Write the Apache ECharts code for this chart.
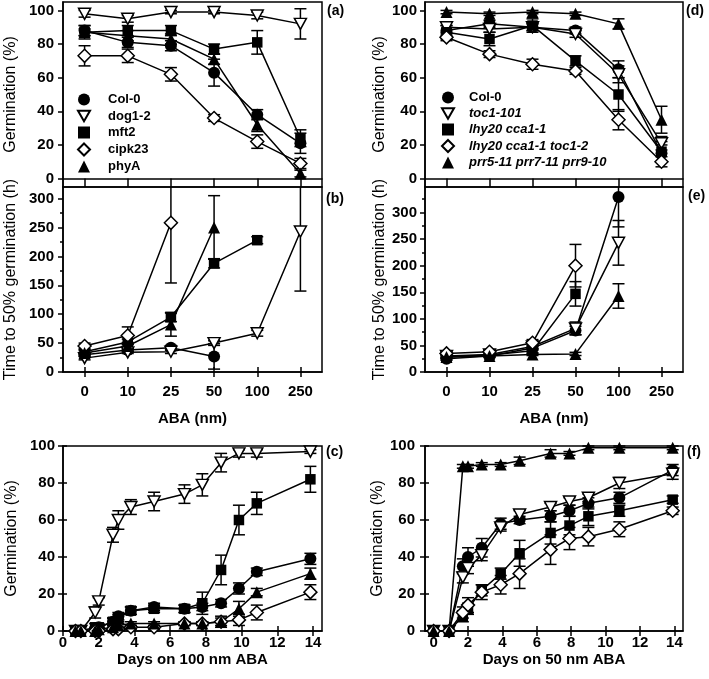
<!DOCTYPE html>
<html>
<head>
<meta charset="utf-8">
<script src="https://cdn.jsdelivr.net/npm/echarts@6/dist/echarts.min.js"></script>
<style>html,body{margin:0;padding:0;background:#fff;}#chart{width:709px;height:679px;}</style>
</head>
<body>
<div id="chart"></div>
<script>
// ---------------- DATA ----------------
const abaCats = ['0', '10', '25', '50', '100', '250'];

// Panel (a): germination (%) vs ABA
const aCol0 = [88, 81, 79, 63, 38, 21];
const aDog12 = [98, 95, 99, 99, 97, 92];
const aMft2 = [87, 88, 88, 77, 81, 24];
const aCipk23 = [73, 73, 62, 36, 22, 9];
const aPhyA = [87, 85, 83, 71, 32, 3];
const aCol0Err = [3, 3, 3, 8, 3, 6];
const aDog12Err = [2, 2, 1, 1, 2, 9];
const aMft2Err = [4, 3, 3, 3, 7, 5];
const aCipk23Err = [6, 4, 4, 2, 4, 3];
const aPhyAErr = [2, 3, 3, 3, 4, 2];

// Panel (b): time to 50% germination (h)
const bCol0 = [30, 38, 42, 27, null, null];
const bDog12 = [24, 34, 35, 50, 67, 243];
const bMft2 = [35, 52, 95, 188, 228, null];
const bCipk23 = [45, 63, 258, null, null, null];
const bPhyA = [33, 45, 82, 250, null, null];
const bCol0Err = [3, 3, 4, 22, 0, 0];
const bDog12Err = [3, 2, 3, 4, 5, 103];
const bMft2Err = [4, 5, 8, 8, 6, 0];
const bCipk23Err = [5, 15, 104, 0, 0, 0];
const bPhyAErr = [4, 6, 20, 55, 0, 0];

// Panel (c): days on 100 nm ABA
const cDays = [0.7, 1, 1.8, 2, 2.8, 3.1, 3.8, 5.1, 6.8, 7.8, 8.85, 9.85, 10.85, 13.85];
const cDog12 = [0, 0, 10, 16, 52, 60, 67, 70, 74, 79, 91, 96, 96, 97];
const cMft2 = [0, 0, 2, 2, 5, 7, 11, 12, 12, 15, 33, 60, 69, 82];
const cCol0 = [0, 0, 1, 2, 5, 8, 11, 13, 12, 13, 15, 23, 32, 39];
const cPhyA = [0, 0, 0, 1, 2, 3, 4, 4, 4, 4, 5, 12, 21, 31];
const cCipk23 = [0, 0, 0, 0, 1, 1, 2, 2, 4, 4, 5, 6, 10, 21];
const cDog12Err = [0, 0, 3, 2, 4, 5, 4, 5, 5, 6, 5, 2, 2, 1];
const cMft2Err = [0, 0, 2, 2, 2, 2, 2, 2, 2, 6, 8, 8, 6, 7];
const cCol0Err = [0, 0, 1, 1, 2, 2, 2, 2, 2, 2, 2, 3, 2, 3];
const cPhyAErr = [0, 0, 0, 1, 1, 1, 1, 1, 1, 1, 3, 4, 2, 3];
const cCipk23Err = [0, 0, 0, 0, 1, 1, 1, 1, 1, 1, 2, 3, 4, 4];

// Panel (d): germination (%) vs ABA, clock mutants
const dCol0 = [88, 92, 90, 88, 65, 15];
const dToc1 = [90, 89, 90, 86, 62, 21];
const dLhy = [87, 83, 91, 70, 50, 16];
const dLhyToc = [84, 74, 68, 64, 35, 10];
const dPrr = [99, 98, 99, 98, 92, 35];
const dCol0Err = [3, 2, 2, 2, 5, 5];
const dToc1Err = [3, 2, 2, 2, 5, 4];
const dLhyErr = [4, 4, 4, 3, 10, 6];
const dLhyTocErr = [2, 2, 3, 2, 6, 3];
const dPrrErr = [1, 1, 1, 1, 3, 8];

// Panel (e): time to 50% germination (h), clock mutants
const eCol0 = [25, 30, 45, 78, 329, null];
const eToc1 = [30, 33, 48, 82, 243, null];
const eLhy = [28, 32, 40, 147, null, null];
const eLhyToc = [35, 38, 55, 200, null, null];
const ePrr = [28, 30, 33, 34, 143, null];
const eCol0Err = [3, 3, 4, 8, 56, 0];
const eToc1Err = [3, 3, 5, 12, 42, 0];
const eLhyErr = [3, 3, 4, 23, 0, 0];
const eLhyTocErr = [3, 3, 6, 40, 0, 0];
const ePrrErr = [2, 2, 2, 3, 23, 0];

// Panel (f): days on 50 nm ABA
const fDays = [0, 0.9, 1.7, 2, 2.8, 3.9, 5, 6.8, 7.9, 9, 10.8, 13.9];
const fCol0 = [0, 0, 35, 40, 45, 58, 60, 62, 65, 69, 72, 87];
const fToc1 = [0, 0, 29, 34, 41, 56, 63, 67, 70, 72, 80, 85];
const fLhy = [0, 0, 8, 12, 22, 31, 42, 53, 57, 62, 65, 71];
const fLhyToc = [0, 0, 10, 14, 21, 25, 31, 44, 50, 51, 55, 65];
const fPrr = [0, 0, 89, 89, 90, 90, 92, 96, 96, 99, 99, 99];
const fCol0Err = [0, 0, 4, 5, 5, 3, 2, 3, 3, 3, 3, 3];
const fToc1Err = [0, 0, 3, 3, 3, 2, 2, 2, 2, 2, 3, 3];
const fLhyErr = [0, 0, 3, 3, 3, 3, 7, 6, 5, 5, 3, 2];
const fLhyTocErr = [0, 0, 3, 4, 4, 5, 8, 8, 6, 5, 4, 2];
const fPrrErr = [0, 0, 1, 1, 1, 1, 2, 2, 1, 1, 1, 1];

const germTicks = [0, 20, 40, 60, 80, 100];
const timeTicks = [0, 50, 100, 150, 200, 250, 300];
const timeMinorTicks = [25, 75, 125, 175, 225, 275, 325];
const dayTicks = [0, 2, 4, 6, 8, 10, 12, 14];

// ---------------- STYLE / BUILD ----------------
const FONT = "'Liberation Sans', Arial, Helvetica, sans-serif";
const BLACK = '#000';
const LW = 1.5;
const SYM = {
  circle: { symbol: 'circle', size: 12, fill: BLACK, open: false, icon: 'circle' },
  down: { symbol: 'path://M0,0L12,0L6,10.4Z', size: [12, 11], fill: '#fff', open: true, icon: 'path://M0,0L12,0L6,10.4Z' },
  square: { symbol: 'rect', size: 10.5, fill: BLACK, open: false, icon: 'rect' },
  diamond: { symbol: 'diamond', size: 13, fill: '#fff', open: true, icon: 'diamond' },
  up: { symbol: 'triangle', size: 12, fill: BLACK, open: false, icon: 'triangle' }
};

const option = {
  animation: false,
  backgroundColor: '#fff',
  textStyle: { fontFamily: FONT },
  grid: [], xAxis: [], yAxis: [], series: [], legend: [], graphic: []
};

function addGrid(g) {
  option.grid.push(Object.assign({
    show: true, borderColor: BLACK, borderWidth: LW, backgroundColor: 'rgba(0,0,0,0)',
    containLabel: false, outerBoundsMode: 'none'
  }, g));
  return option.grid.length - 1;
}
const tickLS = { color: BLACK, width: LW };
const labelStyle = { show: true, color: BLACK, fontFamily: FONT, fontWeight: 'bold', fontSize: 15 };
const yNameStyle = { color: BLACK, fontFamily: FONT, fontWeight: 'normal', fontSize: 16 };

function addCatX(gi, showLabels, name) {
  const idx = option.xAxis.length;
  option.xAxis.push({
    type: 'category', gridIndex: gi, data: abaCats, boundaryGap: true, position: 'bottom',
    axisLine: { show: true, lineStyle: { color: BLACK, width: LW } },
    axisTick: { show: true, alignWithLabel: true, interval: 0, length: 5, lineStyle: tickLS },
    axisLabel: Object.assign({}, labelStyle, { show: showLabels, interval: 0, margin: 12 }),
    splitLine: { show: false },
    name: name || '', nameLocation: 'middle', nameGap: 39,
    nameTextStyle: { color: BLACK, fontFamily: FONT, fontWeight: 'bold', fontSize: 15 }
  });
  option.xAxis.push({
    type: 'category', gridIndex: gi, data: abaCats, boundaryGap: true, position: 'bottom',
    axisLine: { show: false },
    axisTick: { show: true, inside: true, alignWithLabel: true, interval: 0, length: 5, lineStyle: tickLS },
    axisLabel: { show: false, interval: 0 }, splitLine: { show: false }
  });
  return idx;
}
function addValX(gi, min, max, name) {
  const idx = option.xAxis.length;
  option.xAxis.push({
    type: 'value', gridIndex: gi, min: min, max: max, position: 'bottom',
    axisLine: { show: true, onZero: false, lineStyle: { color: BLACK, width: LW } },
    axisTick: { show: true, length: 5, customValues: dayTicks, lineStyle: tickLS },
    axisLabel: Object.assign({}, labelStyle, { margin: 4, customValues: dayTicks }),
    splitLine: { show: false },
    name: name, nameLocation: 'middle', nameGap: 21,
    nameTextStyle: { color: BLACK, fontFamily: FONT, fontWeight: 'bold', fontSize: 15 }
  });
  option.xAxis.push({
    type: 'value', gridIndex: gi, min: min, max: max, position: 'bottom',
    axisLine: { show: false, onZero: false },
    axisTick: { show: true, inside: true, length: 5, customValues: dayTicks, lineStyle: tickLS },
    axisLabel: { show: false }, splitLine: { show: false }
  });
  return idx;
}
function addY(gi, min, max, ticks, name, nameGap, opts) {
  const idx = option.yAxis.length;
  option.yAxis.push({
    type: 'value', gridIndex: gi, min: min, max: max, position: 'left',
    axisLine: { show: true, onZero: false, lineStyle: { color: BLACK, width: LW } },
    axisTick: { show: true, length: 5, customValues: ticks, lineStyle: tickLS },
    axisLabel: Object.assign({}, labelStyle, { margin: opts.margin, customValues: ticks }),
    splitLine: { show: false },
    name: name, nameLocation: 'middle', nameGap: nameGap,
    nameTextStyle: yNameStyle
  });
  if (opts.minor) {
    option.yAxis.push({
      type: 'value', gridIndex: gi, min: min, max: max, position: 'left',
      axisLine: { show: false, onZero: false },
      axisTick: { show: true, length: 3, customValues: opts.minor, lineStyle: tickLS },
      axisLabel: { show: false }, splitLine: { show: false }
    });
  }
  if (opts.cross) {
    option.yAxis.push({
      type: 'value', gridIndex: gi, min: min, max: max, position: 'left',
      axisLine: { show: false, onZero: false },
      axisTick: { show: true, inside: true, length: 4, customValues: ticks, lineStyle: tickLS },
      axisLabel: { show: false }, splitLine: { show: false }
    });
  }
  return idx;
}

function errRender(params, api) {
  const x = api.value(0), y = api.value(1), e = api.value(2);
  if (!e || isNaN(y)) return null;
  const cs = params.coordSys;
  const top = api.coord([x, y + e]);
  const bot = api.coord([x, y - e]);
  const yMin = cs.y, yMax = cs.y + cs.height;
  const hw = 6;
  const st = { stroke: BLACK, lineWidth: LW };
  const ch = [{ type: 'line', shape: { x1: top[0], y1: Math.max(top[1], yMin), x2: top[0], y2: Math.min(bot[1], yMax) }, style: st }];
  if (top[1] >= yMin - 0.5) ch.push({ type: 'line', shape: { x1: top[0] - hw, y1: top[1], x2: top[0] + hw, y2: top[1] }, style: st });
  if (bot[1] <= yMax + 0.5) ch.push({ type: 'line', shape: { x1: bot[0] - hw, y1: bot[1], x2: bot[0] + hw, y2: bot[1] }, style: st });
  return { type: 'group', children: ch };
}

function addSeries(name, xi, yi, xs, ys, errs, sym) {
  const errData = [];
  const lineData = [];
  for (let i = 0; i < ys.length; i++) {
    const xv = xs ? xs[i] : i;
    if (ys[i] === null) {
      lineData.push(xs ? [xv, null] : null);
      continue;
    }
    lineData.push(xs ? [xv, ys[i]] : ys[i]);
    errData.push([xv, ys[i], errs[i]]);
  }
  option.series.push({
    type: 'custom', name: name + ' err', xAxisIndex: xi, yAxisIndex: yi, z: 1,
    renderItem: errRender, data: errData, encode: { x: 0, y: 1 }, silent: true, clip: false
  });
  option.series.push({
    type: 'line', name: name, xAxisIndex: xi, yAxisIndex: yi, data: lineData, z: 3,
    symbol: sym.symbol, symbolSize: sym.size, showSymbol: true, showAllSymbol: true,
    connectNulls: false, clip: false, silent: true,
    lineStyle: { color: BLACK, width: LW },
    itemStyle: { color: sym.fill, borderColor: BLACK, borderWidth: sym.open ? LW : 0 },
    emphasis: { disabled: true }
  });
}

// Grids
const gA = addGrid({ left: 63, top: 2, width: 259, height: 185 });
const gB = addGrid({ left: 63, top: 187, width: 259, height: 185 });
const gC = addGrid({ left: 63, top: 446, width: 259, height: 185 });
const gD = addGrid({ left: 425, top: 2, width: 258, height: 185 });
const gE = addGrid({ left: 425, top: 187, width: 258, height: 185 });
const gF = addGrid({ left: 425, top: 446, width: 258, height: 185 });

const xA = addCatX(gA, false, '');
const yA = addY(gA, -5, 105, germTicks, 'Germination (%)', 44, { margin: 9 });
const xB = addCatX(gB, true, 'ABA (nm)');
const yB = addY(gB, 0, 320, timeTicks, 'Time to 50% germination (h)', 44, { margin: 9, minor: timeMinorTicks.filter(v => v < 320) });
const xC = addValX(gC, 0, 14.5, 'Days on 100 nm ABA');
const yC = addY(gC, 0, 100, germTicks, 'Germination (%)', 43, { margin: 8, cross: true });
const xD = addCatX(gD, false, '');
const yD = addY(gD, -5, 105, germTicks, 'Germination (%)', 34, { margin: 8 });
const xE = addCatX(gE, true, 'ABA (nm)');
const yE = addY(gE, 0, 348, timeTicks, 'Time to 50% germination (h)', 37, { margin: 8, minor: timeMinorTicks.filter(v => v < 348) });
const xF = addValX(gF, -0.5, 14.5, 'Days on 50 nm ABA');
const yF = addY(gF, 0, 100, germTicks, 'Germination (%)', 35, { margin: 10, cross: true });

// Panel a
addSeries('Col-0', xA, yA, null, aCol0, aCol0Err, SYM.circle);
addSeries('dog1-2', xA, yA, null, aDog12, aDog12Err, SYM.down);
addSeries('mft2', xA, yA, null, aMft2, aMft2Err, SYM.square);
addSeries('cipk23', xA, yA, null, aCipk23, aCipk23Err, SYM.diamond);
addSeries('phyA', xA, yA, null, aPhyA, aPhyAErr, SYM.up);
// Panel b
addSeries('Col-0', xB, yB, null, bCol0, bCol0Err, SYM.circle);
addSeries('dog1-2', xB, yB, null, bDog12, bDog12Err, SYM.down);
addSeries('mft2', xB, yB, null, bMft2, bMft2Err, SYM.square);
addSeries('cipk23', xB, yB, null, bCipk23, bCipk23Err, SYM.diamond);
addSeries('phyA', xB, yB, null, bPhyA, bPhyAErr, SYM.up);
// Panel c
addSeries('Col-0', xC, yC, cDays, cCol0, cCol0Err, SYM.circle);
addSeries('dog1-2', xC, yC, cDays, cDog12, cDog12Err, SYM.down);
addSeries('mft2', xC, yC, cDays, cMft2, cMft2Err, SYM.square);
addSeries('cipk23', xC, yC, cDays, cCipk23, cCipk23Err, SYM.diamond);
addSeries('phyA', xC, yC, cDays, cPhyA, cPhyAErr, SYM.up);
// Panel d
addSeries('Col-0', xD, yD, null, dCol0, dCol0Err, SYM.circle);
addSeries('toc1-101', xD, yD, null, dToc1, dToc1Err, SYM.down);
addSeries('lhy20 cca1-1', xD, yD, null, dLhy, dLhyErr, SYM.square);
addSeries('lhy20 cca1-1 toc1-2', xD, yD, null, dLhyToc, dLhyTocErr, SYM.diamond);
addSeries('prr5-11 prr7-11 prr9-10', xD, yD, null, dPrr, dPrrErr, SYM.up);
// Panel e
addSeries('Col-0', xE, yE, null, eCol0, eCol0Err, SYM.circle);
addSeries('toc1-101', xE, yE, null, eToc1, eToc1Err, SYM.down);
addSeries('lhy20 cca1-1', xE, yE, null, eLhy, eLhyErr, SYM.square);
addSeries('lhy20 cca1-1 toc1-2', xE, yE, null, eLhyToc, eLhyTocErr, SYM.diamond);
addSeries('prr5-11 prr7-11 prr9-10', xE, yE, null, ePrr, ePrrErr, SYM.up);
// Panel f
addSeries('Col-0', xF, yF, fDays, fCol0, fCol0Err, SYM.circle);
addSeries('toc1-101', xF, yF, fDays, fToc1, fToc1Err, SYM.down);
addSeries('lhy20 cca1-1', xF, yF, fDays, fLhy, fLhyErr, SYM.square);
addSeries('lhy20 cca1-1 toc1-2', xF, yF, fDays, fLhyToc, fLhyTocErr, SYM.diamond);
addSeries('prr5-11 prr7-11 prr9-10', xF, yF, fDays, fPrr, fPrrErr, SYM.up);

// Legends
const legText = { color: BLACK, fontFamily: FONT, fontWeight: 'bold', fontSize: 13, lineHeight: 12 };
option.legend.push({
  orient: 'vertical', left: 77, top: 93, padding: 0, itemWidth: 12, itemHeight: 12, itemGap: 3.5,
  selectedMode: false, textStyle: Object.assign({}, legText, { padding: [0, 0, 0, 13] }),
  data: [
    { name: 'Col-0', icon: SYM.circle.icon },
    { name: 'dog1-2', icon: SYM.down.icon },
    { name: 'mft2', icon: SYM.square.icon },
    { name: 'cipk23', icon: SYM.diamond.icon },
    { name: 'phyA', icon: SYM.up.icon }
  ]
});
option.legend.push({
  orient: 'vertical', left: 441, top: 91, padding: 0, itemWidth: 12, itemHeight: 12, itemGap: 3,
  selectedMode: false, textStyle: Object.assign({}, legText, { padding: [0, 0, 0, 10] }),
  data: [
    { name: 'Col-0', icon: SYM.circle.icon },
    { name: 'toc1-101', icon: SYM.down.icon, textStyle: { fontStyle: 'italic' } },
    { name: 'lhy20 cca1-1', icon: SYM.square.icon, textStyle: { fontStyle: 'italic' } },
    { name: 'lhy20 cca1-1 toc1-2', icon: SYM.diamond.icon, textStyle: { fontStyle: 'italic' } },
    { name: 'prr5-11 prr7-11 prr9-10', icon: SYM.up.icon, textStyle: { fontStyle: 'italic' } }
  ]
});

// Panel letters
const panelLabels = [['(a)', 327, 12], ['(b)', 326, 200], ['(c)', 326, 453], ['(d)', 686, 12], ['(e)', 688, 197], ['(f)', 687, 453]];
panelLabels.forEach(function (p) {
  option.graphic.push({
    type: 'text', left: p[1], top: p[2] - 8,
    style: { text: p[0], fill: BLACK, font: 'bold 14px ' + FONT }
  });
});

const chart = echarts.init(document.getElementById('chart'), null, { renderer: 'canvas' });
chart.setOption(option);
</script>
</body>
</html>
